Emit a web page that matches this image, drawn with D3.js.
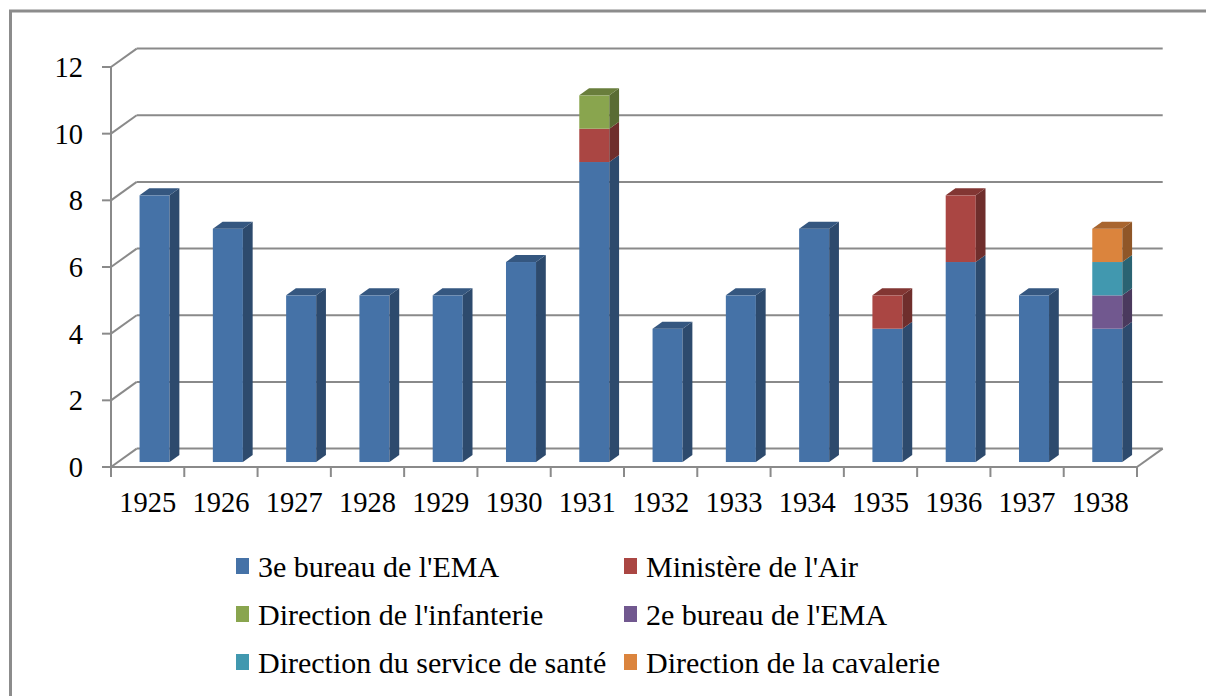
<!DOCTYPE html>
<html>
<head>
<meta charset="utf-8">
<script src="https://cdn.jsdelivr.net/npm/d3@7"></script>
<style>
  body { margin: 0; background: #fff; }
</style>
</head>
<body>
<div id="chart"></div>
<script>
const width = 1206,
  height = 696;

// DATA
const years = ["1925", "1926", "1927", "1928", "1929", "1930", "1931", "1932", "1933", "1934", "1935", "1936", "1937", "1938"];
const seriesNames = ["3e bureau de l'EMA", "Ministère de l'Air", "Direction de l'infanterie", "2e bureau de l'EMA", "Direction du service de santé", "Direction de la cavalerie"];
const bureau3 = [8, 7, 5, 5, 5, 6, 9, 4, 5, 7, 4, 6, 5, 4];
const ministereAir = [0, 0, 0, 0, 0, 0, 1, 0, 0, 0, 1, 2, 0, 0];
const infanterie = [0, 0, 0, 0, 0, 0, 1, 0, 0, 0, 0, 0, 0, 0];
const bureau2 = [0, 0, 0, 0, 0, 0, 0, 0, 0, 0, 0, 0, 0, 1];
const sante = [0, 0, 0, 0, 0, 0, 0, 0, 0, 0, 0, 0, 0, 1];
const cavalerie = [0, 0, 0, 0, 0, 0, 0, 0, 0, 0, 0, 0, 0, 1];
const yTicks = [0, 2, 4, 6, 8, 10, 12];
const colors = ["#4572a7", "#aa4643", "#89a54e", "#71588f", "#4198af", "#db843d"];

const allSeries = [bureau3, ministereAir, infanterie, bureau2, sante, cavalerie];
const table = years.map((y, i) => {
  const row = { year: y };
  seriesNames.forEach((s, j) => (row[s] = allSeries[j][i]));
  return row;
});

const fontFamily = "'Liberation Serif', 'Times New Roman', Times, serif";

// 3D projection: depth vector of the plot box
const depth = { dx: 25.7, dy: -18.4 };
const barFront = 0.27, barBack = 0.65;

const xScale = d3.scaleBand()
  .domain(years)
  .range([111, 1137])
  .paddingInner(0.59)
  .paddingOuter(0.295);

const yScale = d3.scaleLinear()
  .domain([0, 12])
  .range([467, 67]);

const svg = d3.select("#chart")
  .append("svg")
  .attr("width", width)
  .attr("height", height)
  .style("font-family", fontFamily);

// outer border (right and bottom edges lie outside the picture)
svg.append("rect")
  .attr("x", 10.5).attr("y", 11)
  .attr("width", 1250).attr("height", 750)
  .attr("fill", "none")
  .attr("stroke", "#8c8c8c")
  .attr("stroke-width", 3);

const gridColor = "#8a8a8a";
const x0 = xScale.range()[0], x1 = xScale.range()[1];

// back wall gridlines + side wall diagonals
const grid = svg.append("g").attr("class", "grid");
yTicks.forEach(t => {
  const y = yScale(t);
  grid.append("line")
    .attr("x1", x0 + depth.dx).attr("x2", x1 + depth.dx)
    .attr("y1", y + depth.dy).attr("y2", y + depth.dy)
    .attr("stroke", gridColor).attr("stroke-width", 2);
  grid.append("line")
    .attr("x1", x0).attr("y1", y)
    .attr("x2", x0 + depth.dx).attr("y2", y + depth.dy)
    .attr("stroke", gridColor).attr("stroke-width", 2);
});

// floor front edge and right edge
grid.append("line")
  .attr("x1", x0).attr("x2", x1)
  .attr("y1", yScale(0)).attr("y2", yScale(0))
  .attr("stroke", gridColor).attr("stroke-width", 2);
grid.append("line")
  .attr("x1", x1).attr("y1", yScale(0))
  .attr("x2", x1 + depth.dx).attr("y2", yScale(0) + depth.dy)
  .attr("stroke", gridColor).attr("stroke-width", 2);

// y axis
grid.append("line")
  .attr("x1", x0).attr("x2", x0)
  .attr("y1", yScale(0)).attr("y2", yScale(12))
  .attr("stroke", gridColor).attr("stroke-width", 2);

const yAxis = svg.append("g").attr("class", "axis y-axis");
yAxis.selectAll("line")
  .data(yTicks)
  .join("line")
  .attr("x1", x0 - 9).attr("x2", x0)
  .attr("y1", d => yScale(d)).attr("y2", d => yScale(d))
  .attr("stroke", gridColor).attr("stroke-width", 2);
yAxis.selectAll("text")
  .data(yTicks)
  .join("text")
  .attr("x", 83)
  .attr("y", d => yScale(d) + 10)
  .attr("text-anchor", "end")
  .attr("font-family", fontFamily)
  .attr("font-size", 28.5)
  .text(d => d);

// x axis ticks at band edges
const xAxis = svg.append("g").attr("class", "axis x-axis");
const edges = d3.range(years.length + 1).map(i => x0 + i * xScale.step());
xAxis.selectAll("line")
  .data(edges)
  .join("line")
  .attr("x1", d => d).attr("x2", d => d)
  .attr("y1", yScale(0)).attr("y2", yScale(0) + 10)
  .attr("stroke", gridColor).attr("stroke-width", 2);
xAxis.selectAll("text")
  .data(years)
  .join("text")
  .attr("x", d => xScale(d) + xScale.bandwidth() / 2)
  .attr("y", 512)
  .attr("text-anchor", "middle")
  .attr("font-family", fontFamily)
  .attr("font-size", 28.5)
  .text(d => d);

// stacked 3D bars
const stacked = d3.stack().keys(seriesNames)(table);
const shade = (c, k) => d3.rgb(c).darker(k).formatHex();

const fx = barFront * depth.dx, fy = barFront * depth.dy;
const bdx = (barBack - barFront) * depth.dx, bdy = (barBack - barFront) * depth.dy;
const bw = xScale.bandwidth();

const bars = svg.append("g").attr("class", "bars");
years.forEach((yr, i) => {
  const segs = stacked
    .map((s, j) => ({ lo: s[i][0], hi: s[i][1], color: colors[j] }))
    .filter(d => d.hi > d.lo);
  const g = bars.append("g");
  const left = xScale(yr) + fx;
  const right = left + bw;

  segs.forEach(d => {
    const yt = yScale(d.hi) + fy, yb = yScale(d.lo) + fy;
    g.append("rect")
      .attr("x", left).attr("y", yt)
      .attr("width", bw).attr("height", yb - yt)
      .attr("fill", d.color);
    g.append("path")
      .attr("d", `M${right},${yt}L${right + bdx},${yt + bdy}L${right + bdx},${yb + bdy}L${right},${yb}Z`)
      .attr("fill", shade(d.color, 1.2));
  });
  const top = segs[segs.length - 1];
  const yt = yScale(top.hi) + fy;
  g.append("path")
    .attr("d", `M${left},${yt}L${left + bdx},${yt + bdy}L${right + bdx},${yt + bdy}L${right},${yt}Z`)
    .attr("fill", shade(top.color, 0.75));
});

// legend
const legend = svg.append("g").attr("class", "legend");
const legX = [236, 624], legY = [577, 625, 673];
seriesNames.forEach((name, j) => {
  const lx = legX[j % 2], ly = legY[Math.floor(j / 2)];
  legend.append("rect")
    .attr("x", lx).attr("y", ly - 19)
    .attr("width", 13).attr("height", 16)
    .attr("fill", colors[j]);
  legend.append("text")
    .attr("x", lx + 22).attr("y", ly)
    .attr("font-family", fontFamily)
    .attr("font-size", 30)
    .text(name);
});
</script>
</body>
</html>
